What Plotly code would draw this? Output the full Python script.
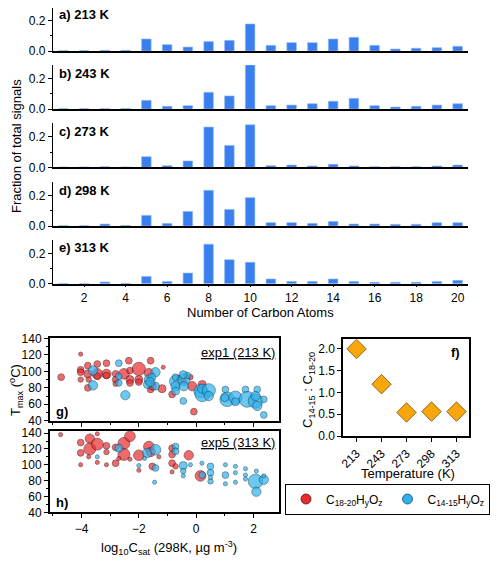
import plotly.graph_objects as go

# carbon-number distributions (fraction of total signals)
carbon = list(range(1, 21))
temps = ["213", "243", "273", "298", "313"]
frac_213 = [0.002, 0.002, 0.004, 0.004, 0.079, 0.042, 0.026, 0.062, 0.070, 0.178,
            0.037, 0.055, 0.055, 0.079, 0.090, 0.037, 0.013, 0.018, 0.022, 0.031]
frac_243 = [0.002, 0.002, 0.002, 0.003, 0.057, 0.018, 0.022, 0.110, 0.086, 0.290,
            0.022, 0.026, 0.035, 0.051, 0.070, 0.022, 0.013, 0.018, 0.026, 0.035]
frac_273 = [0.002, 0.002, 0.004, 0.002, 0.070, 0.011, 0.042, 0.265, 0.144, 0.280,
            0.011, 0.015, 0.009, 0.020, 0.009, 0.004, 0.004, 0.004, 0.009, 0.015]
frac_298 = [0.002, 0.002, 0.013, 0.003, 0.070, 0.017, 0.096, 0.235, 0.109, 0.187,
            0.022, 0.022, 0.017, 0.030, 0.013, 0.013, 0.011, 0.011, 0.022, 0.022]
frac_313 = [0.002, 0.002, 0.011, 0.003, 0.048, 0.015, 0.070, 0.260, 0.158, 0.141,
            0.031, 0.015, 0.015, 0.031, 0.015, 0.009, 0.009, 0.009, 0.015, 0.022]
fractions = [frac_213, frac_243, frac_273, frac_298, frac_313]

# ratio C14-15 : C18-20
ratio = [2.0, 1.19, 0.54, 0.56, 0.56]

# Tmax vs log10 Csat, exp1 (213 K); third list = relative signal
g_red_x = [-4.71, -4.03, -4.03, -4.03, -4.03, -3.78, -3.78, -3.75, -3.78, -3.45, -3.45, -3.45,
           -3.13, -3.13, -3.13, -2.81, -2.81, -2.81, -2.52, -2.35, -2.31, -2.31, -2.31, -2.0,
           -2.0, -2.0, -1.65, -1.59, -1.6, -1.59, -1.53, -1.19, -0.84, -0.14, -0.08, -0.6,
           -1.15, 0.21, -0.2, -0.43]
g_red_y = [93, 121, 102, 99, 90, 107, 97, 90, 80, 109, 97, 94,
           110, 97, 95, 97, 90, 85, 97, 113, 101, 90, 86, 103,
           90, 87, 98, 113, 87, 78, 82, 79, 72, 82, 51, 92,
           105, 84, 93, 88]
g_red_s = [3, 1, 3, 3, 2, 3, 4, 2, 3, 3, 6, 3,
           3, 5, 3, 3, 3, 2, 6, 3, 3, 4, 3, 8,
           4, 3, 5, 3, 3, 3, 4, 4, 3, 5, 3, 2,
           1, 4, 2, 2]
g_blue_x = [-3.6, -3.6, -2.7, -2.7, -2.47, -2.7, -1.42, -1.65, -1.7, -1.42, -1.55, -0.72,
            -0.72, -0.72, -0.72, -0.43, -0.43, -0.45, -0.31, -0.45, 0.15, 0.21, 0.21, 0.44,
            0.44, 1.02, 1.08, 1.0, 1.37, 1.37, 1.72, 1.78, 2.07, 2.13, 2.13, 2.36, 2.36,
            2.07, -1.6]
g_blue_y = [101, 83, 110, 86, 71, 94, 99, 90, 84, 82, 93, 88,
            82, 76, 93, 90, 82, 64, 95, 96, 76, 72, 79, 77,
            70, 78, 66, 68, 68, 63, 78, 66, 64, 78, 58, 47, 66,
            70, 87]
g_blue_s = [5, 5, 3, 3, 5, 3, 5, 5, 4, 4, 4, 7,
            5, 4, 3, 7, 5, 3, 3, 4, 8, 9, 5, 8,
            5, 3, 9, 4, 8, 4, 3, 10, 9, 3, 5, 3, 3,
            5, 5]

# exp5 (313 K)
h_red_x = [-4.73, -4.03, -4.03, -4.03, -3.71, -3.71, -3.45, -3.45, -3.45, -3.13, -3.13, -3.13,
           -2.81, -2.81, -2.52, -2.52, -2.31, -2.31, -2.0, -2.0, -1.65, -1.59, -1.53, -0.84,
           -0.84, -0.84, -0.84, -0.26, 0.15, -0.72, -1.3, -2.7, -3.75]
h_red_y = [138, 128, 115, 100, 133, 120, 126, 139, 103, 124, 116, 100,
           122, 102, 127, 113, 136, 107, 112, 93, 123, 116, 98, 121,
           113, 102, 91, 112, 86, 98, 110, 108, 110]
h_red_s = [1, 3, 3, 1, 5, 7, 7, 1, 1, 3, 2, 1,
           3, 3, 7, 7, 6, 1, 6, 1, 6, 5, 3, 3,
           3, 3, 1, 5, 6, 2, 1, 1, 1]
h_blue_x = [-2.7, -1.71, -1.42, -1.42, -0.72, -0.72, -0.45, -0.45, 0.21, 0.5, 0.5, 0.5,
            1.02, 1.37, 2.07, 2.36, 2.1, 0.2, 0.5, 1.02, 1.02, 1.37, 1.37, 1.72,
            1.72, 1.72, 2.1, 2.36, -1.45, -0.2, -2.0, -1.8, -3.45, -0.45]
h_blue_y = [121, 115, 119, 96, 123, 117, 99, 92, 87, 98, 90, 79,
            87, 98, 79, 81, 66, 102, 84, 100, 76, 90, 78, 95,
            87, 82, 92, 86, 78, 100, 99, 108, 110, 86]
h_blue_s = [4, 5, 6, 3, 3, 3, 4, 2, 3, 3, 3, 2,
            3, 1, 9, 5, 5, 1, 1, 1, 1, 1, 1, 1,
            1, 1, 1, 1, 1, 1, 1, 1, 1, 1]

RED = "#ea2c30"
BLUE = "#2fb2ec"
RED_EDGE = "#4e1212"
BLUE_EDGE = "#144a66"
BAR = "#3a7ff0"
FONT = "Liberation Sans"
# the page body keeps its 8px default margin, so the figure is drawn 8px in
OFF = 8
W, H = 500 - OFF, 561 - OFF


def px_x(p):
    return (p - OFF) / W


def px_y(p):
    return min(1.0, 1 - (p - OFF) / H)


def msize(s):
    return [2.8 + 1.3 * v for v in s]


def note(text, x, y, size=13, angle=0, xa="center"):
    fig.add_annotation(xref="paper", yref="paper", x=px_x(x), y=px_y(y), text=text,
                       textangle=angle, showarrow=False, xanchor=xa, yanchor="middle",
                       font=dict(size=size, color="black"))


fig = go.Figure()

# --- bar panels a-e ---
panel_zero = [51, 109, 167.3, 226, 283.7]
panel_h = 44
ymax = 0.29
for i, vals in enumerate(fractions):
    n = "" if i == 0 else str(i + 1)
    fig.add_trace(go.Bar(
        x=carbon, y=vals, width=0.46,
        marker=dict(color=BAR, line=dict(color="#8db8f7", width=0.6)),
        xaxis="x" + n, yaxis="y" + n, showlegend=False))
    zero = panel_zero[i]
    top = max(zero - panel_h, OFF)
    last = i == 4
    fig.update_layout({
        "xaxis" + n: dict(
            domain=[px_x(53), px_x(468)], range=[0.5, 20.5], anchor="y" + n,
            automargin=False,
            showline=True, linecolor="black", linewidth=1.5,
            showgrid=False, zeroline=False,
            tickvals=list(range(2, 21, 2)), showticklabels=last,
            ticks="outside" if last else "", ticklen=2, tickcolor="black",
            minor=dict(tickvals=list(range(1, 21, 2)), ticks="outside" if last else "",
                       ticklen=1, tickcolor="black"),
            tickfont=dict(size=12, color="black")),
        "yaxis" + n: dict(
            domain=[px_y(zero), px_y(top)], range=[0, ymax * (zero - top) / panel_h],
            anchor="x" + n, automargin=False,
            showline=True, linecolor="black", linewidth=1.2,
            showgrid=False, zeroline=False,
            tickvals=[0, 0.2], tickformat=".1f", ticks="outside", ticklen=4,
            tickcolor="black",
            minor=dict(tickvals=[0.1], ticks="outside", ticklen=2, tickcolor="black"),
            tickfont=dict(size=12, color="black")),
    })
    note("<b>%s) %s K</b>" % ("abcde"[i], temps[i]), 57, zero - 36, xa="left")

note("Fraction of total signals", 17, 146, angle=-90)
note("Number of Carbon Atoms", 260, 312)


# --- scatter panels g, h ---
def add_scatter(xs, ys, ss, color, edge, ax):
    fig.add_trace(go.Scatter(
        x=xs, y=ys, mode="markers", xaxis="x" + ax, yaxis="y" + ax, showlegend=False,
        marker=dict(size=msize(ss), color=color, line=dict(color=edge, width=0.8))))


add_scatter(g_red_x, g_red_y, g_red_s, RED, RED_EDGE, "6")
add_scatter(g_blue_x, g_blue_y, g_blue_s, BLUE, BLUE_EDGE, "6")
add_scatter(h_red_x, h_red_y, h_red_s, RED, RED_EDGE, "7")
add_scatter(h_blue_x, h_blue_y, h_blue_s, BLUE, BLUE_EDGE, "7")

# legend entries
fig.add_trace(go.Scatter(x=[None], y=[None], mode="markers", xaxis="x6", yaxis="y6",
                         name="C<sub>18-20</sub>H<sub>y</sub>O<sub>z</sub>",
                         marker=dict(size=10, color=RED, line=dict(color=RED_EDGE, width=0.8))))
fig.add_trace(go.Scatter(x=[None], y=[None], mode="markers", xaxis="x6", yaxis="y6",
                         name="C<sub>14-15</sub>H<sub>y</sub>O<sub>z</sub>",
                         marker=dict(size=10, color=BLUE, line=dict(color=BLUE_EDGE, width=0.8))))

box = dict(showline=True, mirror=True, linecolor="black", linewidth=2, automargin=False,
           showgrid=False, zeroline=False, tickcolor="black",
           tickfont=dict(size=12, color="black"))
xsc = dict(domain=[px_x(50), px_x(279.3)], range=[-5.1, 2.9],
           tickvals=[-4, -2, 0, 2], ticks="outside", ticklen=4,
           minor=dict(tickvals=[-5, -3, -1, 1], ticks="outside", ticklen=2, tickcolor="black"))
ysc = dict(tickvals=[40, 60, 80, 100, 120, 140], ticks="outside", ticklen=4,
           minor=dict(tickvals=[50, 70, 90, 110, 130], ticks="outside", ticklen=2,
                      tickcolor="black"))
fig.update_layout(
    xaxis6=dict(**box, **xsc, anchor="y6", showticklabels=False),
    yaxis6=dict(**box, **ysc, domain=[px_y(420.7), px_y(337.7)], range=[40, 141], anchor="x6"),
    xaxis7=dict(**box, **xsc, anchor="y7"),
    yaxis7=dict(**box, **ysc, domain=[px_y(512.3), px_y(430.7)], range=[40, 143], anchor="x7"),
)

note("<u>exp1 (213 K)</u>", 277, 352, xa="right")
note("<u>exp5 (313 K)</u>", 277, 442, xa="right")
note("<b>g)</b>", 54, 411, xa="left")
note("<b>h)</b>", 54, 502, xa="left")
note("T<sub>max</sub> (<sup>o</sup>C)", 16, 390, size=13, angle=-90)
note("log<sub>10</sub>C<sub>sat</sub> (298K, µg m<sup>-3</sup>)", 169, 548)

# --- panel f ---
fig.add_trace(go.Scatter(
    x=temps, y=ratio, mode="markers", xaxis="x8", yaxis="y8", showlegend=False,
    marker=dict(symbol="diamond", size=15, color="#f8a60c",
                line=dict(color="#6e5320", width=0.8))))
fig.update_layout(
    xaxis8=dict(**box, domain=[px_x(343.3), px_x(469)], range=[-0.53, 4.5], anchor="y8",
                type="category", ticks="outside", ticklen=4, tickangle=-45),
    yaxis8=dict(**box, domain=[px_y(436), px_y(339.3)], range=[0, 2.22], anchor="x8",
                tickvals=[0, 0.5, 1.0, 1.5, 2.0], tickformat=".1f", ticks="outside",
                ticklen=4),
)
note("Temperature (K)", 408, 473)
note("C<sub>14-15</sub> : C<sub>18-20</sub>", 308, 390, angle=-90)
note("<b>f)</b>", 462, 353, xa="right")

fig.update_layout(
    width=W, height=H, margin=dict(l=0, r=0, t=0, b=0),
    paper_bgcolor="white", plot_bgcolor="white",
    font=dict(family=FONT, color="black"),
    legend=dict(orientation="h", x=px_x(285), y=px_y(499), xanchor="left", yanchor="middle",
                bordercolor="black", borderwidth=1, font=dict(size=12, color="black"),
                itemsizing="trace", tracegroupgap=0, itemwidth=30,
                bgcolor="white"),
)

fig.write_html("out.html")
